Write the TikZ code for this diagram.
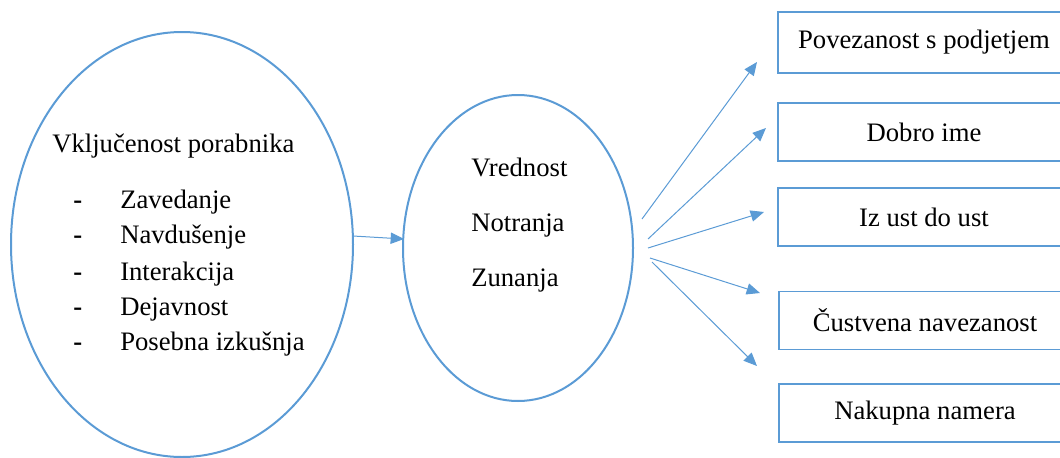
\documentclass[tikz,border=0pt]{standalone}
\usepackage{fontspec}
\setmainfont{Liberation Serif}
\usetikzlibrary{positioning}
\usetikzlibrary{arrows.meta}
\usetikzlibrary{shapes.geometric}
\definecolor{lineblue}{HTML}{5B9BD5}

\begin{document}
\begin{tikzpicture}[x=0.75pt,y=-0.75pt,
 oval/.style={draw=lineblue,line width=1.5pt,ellipse,inner sep=0pt},
 box/.style={draw=lineblue,line width=1pt,minimum width=219pt,minimum height=43.5pt,inner sep=0pt,font=\fontsize{20}{24}\selectfont},
 txt/.style={anchor=base west,inner sep=0pt,font=\fontsize{20}{24}\selectfont},
 arr/.style={draw=lineblue,line width=0.75pt,-{Triangle[length=10pt,width=8.5pt]}}]
 \useasboundingbox (0,0) rectangle (1060,457);
 % ellipses
 \node[oval,minimum width=256.5pt,minimum height=318.75pt] (engage) at (182,244.5) {};
 \node[oval,minimum width=172.5pt,minimum height=229.5pt] (value) at (518,248) {};
 % left text
 \node[txt] (title) at (52,152) {Vključenost porabnika};
 \node[txt] (d1) at (73,208) {\textbf{-}};
 \node[txt] (d2) at (73,243) {\textbf{-}};
 \node[txt] (d3) at (73,280) {\textbf{-}};
 \node[txt] (d4) at (73,315) {\textbf{-}};
 \node[txt] (d5) at (73,350) {\textbf{-}};
 \node[txt] (i1) at (120,208) {Zavedanje};
 \node[txt] (i2) at (120,243) {Navdušenje};
 \node[txt] (i3) at (120,280) {Interakcija};
 \node[txt] (i4) at (120,315) {Dejavnost};
 \node[txt] (i5) at (120,350) {Posebna izkušnja};
 % middle text
 \node[txt] (v1) at (471,176) {Vrednost};
 \node[txt] (v2) at (471,231) {Notranja};
 \node[txt] (v3) at (471,286) {Zunanja};
 % boxes
 \node[box,minimum height=45.75pt] (b1) at (924,42.5) {Povezanost s podjetjem};
 \node[box] (b2) at (924,132) {Dobro ime};
 \node[box] (b3) at (924,217) {Iz ust do ust};
 \node[box] (b4) at (925,320.5) {Čustvena navezanost};
 \node[box] (b5) at (925,413) {Nakupna namera};
 % arrows
 \coordinate (s0) at (353,236);
 \coordinate (e0) at (404,239);
 \coordinate (s1) at (642,219);
 \coordinate (e1) at (757,62);
 \coordinate (s2) at (648,239);
 \coordinate (e2) at (766,128);
 \coordinate (s3) at (648,248);
 \coordinate (e3) at (764,212);
 \coordinate (s4) at (650,258);
 \coordinate (e4) at (760,293);
 \coordinate (s5) at (652,262);
 \coordinate (e5) at (757,366);
 \draw[arr] (s0) -- (e0);
 \draw[arr] (s1) -- (e1);
 \draw[arr] (s2) -- (e2);
 \draw[arr] (s3) -- (e3);
 \draw[arr] (s4) -- (e4);
 \draw[arr] (s5) -- (e5);
\end{tikzpicture}
\end{document}
